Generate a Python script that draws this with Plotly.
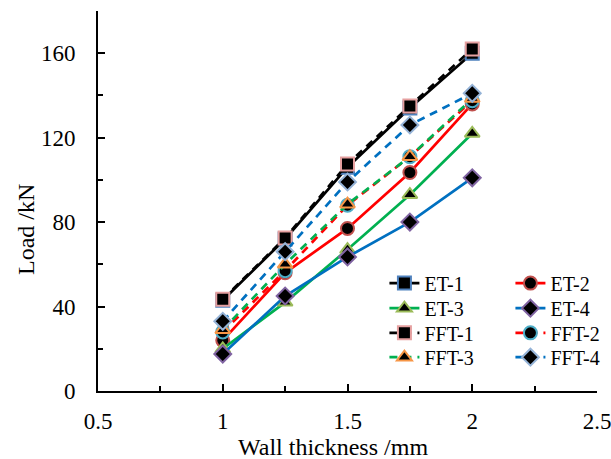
import plotly.graph_objects as go

# Wall thickness (mm) and peak load (kN) for each specimen series
thickness = [1.0, 1.25, 1.5, 1.75, 2.0]

et_1 = [43, 72, 106, 134, 160]
et_2 = [24, 56, 77, 103.5, 136]
et_3 = [20, 42, 67, 93, 122]
et_4 = [17.5, 45, 63.5, 80, 101]
fft_1 = [43.5, 72.5, 107.5, 135, 162]
fft_2 = [28, 57, 88, 111, 137.5]
fft_3 = [29, 60, 88.5, 111, 138.5]
fft_4 = [33, 66, 99, 126, 141]

series_names = ["ET-1", "ET-2", "ET-3", "ET-4", "FFT-1", "FFT-2", "FFT-3", "FFT-4"]
series_values = [et_1, et_2, et_3, et_4, fft_1, fft_2, fft_3, fft_4]

x_ticks = [0.5, 1, 1.5, 2, 2.5]
x_ticktext = ["0.5", "1", "1.5", "2", "2.5"]
y_ticks = [0, 40, 80, 120, 160]

# line colour, dash, marker symbol, marker edge colour
styles = [
    ("#000000", "solid", "square", "#4F81BD"),
    ("#FF0000", "solid", "circle", "#C0504D"),
    ("#00B050", "solid", "triangle-up", "#9BBB59"),
    ("#0070C0", "solid", "diamond", "#8064A2"),
    ("#000000", "8px,6px", "square", "#E6A0A0"),
    ("#FF0000", "8px,6px", "circle", "#4BACC6"),
    ("#00B050", "8px,6px", "triangle-up", "#F79646"),
    ("#0070C0", "8px,6px", "diamond", "#95B3D7"),
]

# two legend entries per row, one legend per row
legend_ids = ["legend", "legend", "legend2", "legend2",
              "legend3", "legend3", "legend4", "legend4"]

fig = go.Figure()
for name, vals, (lc, dash, sym, edge), lg in zip(series_names, series_values,
                                                 styles, legend_ids):
    fig.add_trace(go.Scatter(
        x=thickness, y=vals, name=name, mode="lines+markers", legend=lg,
        line=dict(color=lc, width=2.7, dash=dash),
        marker=dict(symbol=sym, size=13, color="#000000",
                    line=dict(color=edge, width=2)),
    ))

font_family = "Times New Roman, Liberation Serif, serif"
tick_font = dict(family=font_family, size=23, color="#000000")
axis_common = dict(
    showline=True, linecolor="#000000", linewidth=2,
    ticks="inside", tickcolor="#000000", tickwidth=2, ticklen=7,
    showgrid=False, zeroline=False, tickfont=tick_font,
    ticklabeloverflow="allow",
)


def row_legend(ypos):
    return dict(
        orientation="h", x=0.574, y=ypos, xanchor="left", yanchor="middle",
        entrywidth=81, entrywidthmode="pixels",
        bgcolor="rgba(0,0,0,0)",
        font=dict(family=font_family, size=20, color="#000000"),
    )


fig.update_layout(
    width=611, height=459,
    margin=dict(l=98, r=14, t=11, b=68, autoexpand=False),
    paper_bgcolor="white", plot_bgcolor="white",
    font=dict(family=font_family, size=20, color="#000000"),
    xaxis=dict(
        range=[0.5, 2.5], tickvals=x_ticks, ticktext=x_ticktext,
        minor=dict(dtick=0.25, tick0=0.5, ticks="inside", ticklen=5,
                   tickwidth=2, tickcolor="#000000"),
        ticklabelstandoff=8,
        **axis_common,
    ),
    yaxis=dict(
        range=[0, 180], tickvals=y_ticks,
        minor=dict(dtick=20, tick0=0, ticks="inside", ticklen=5,
                   tickwidth=2, tickcolor="#000000"),
        ticklabelstandoff=16,
        **axis_common,
    ),
    legend=row_legend(0.284),
    legend2=row_legend(0.218),
    legend3=row_legend(0.153),
    legend4=row_legend(0.089),
    showlegend=True,
    annotations=[
        dict(text="Wall thickness /mm", xref="paper", yref="paper",
             x=0.471, y=-0.148, xanchor="center", yanchor="middle",
             showarrow=False, font=dict(family=font_family, size=24)),
        dict(text="Load /kN", xref="paper", yref="paper",
             x=-0.144, y=0.424, xanchor="center", yanchor="middle",
             textangle=-90, showarrow=False,
             font=dict(family=font_family, size=24)),
    ],
)

fig.write_html("out.html")
